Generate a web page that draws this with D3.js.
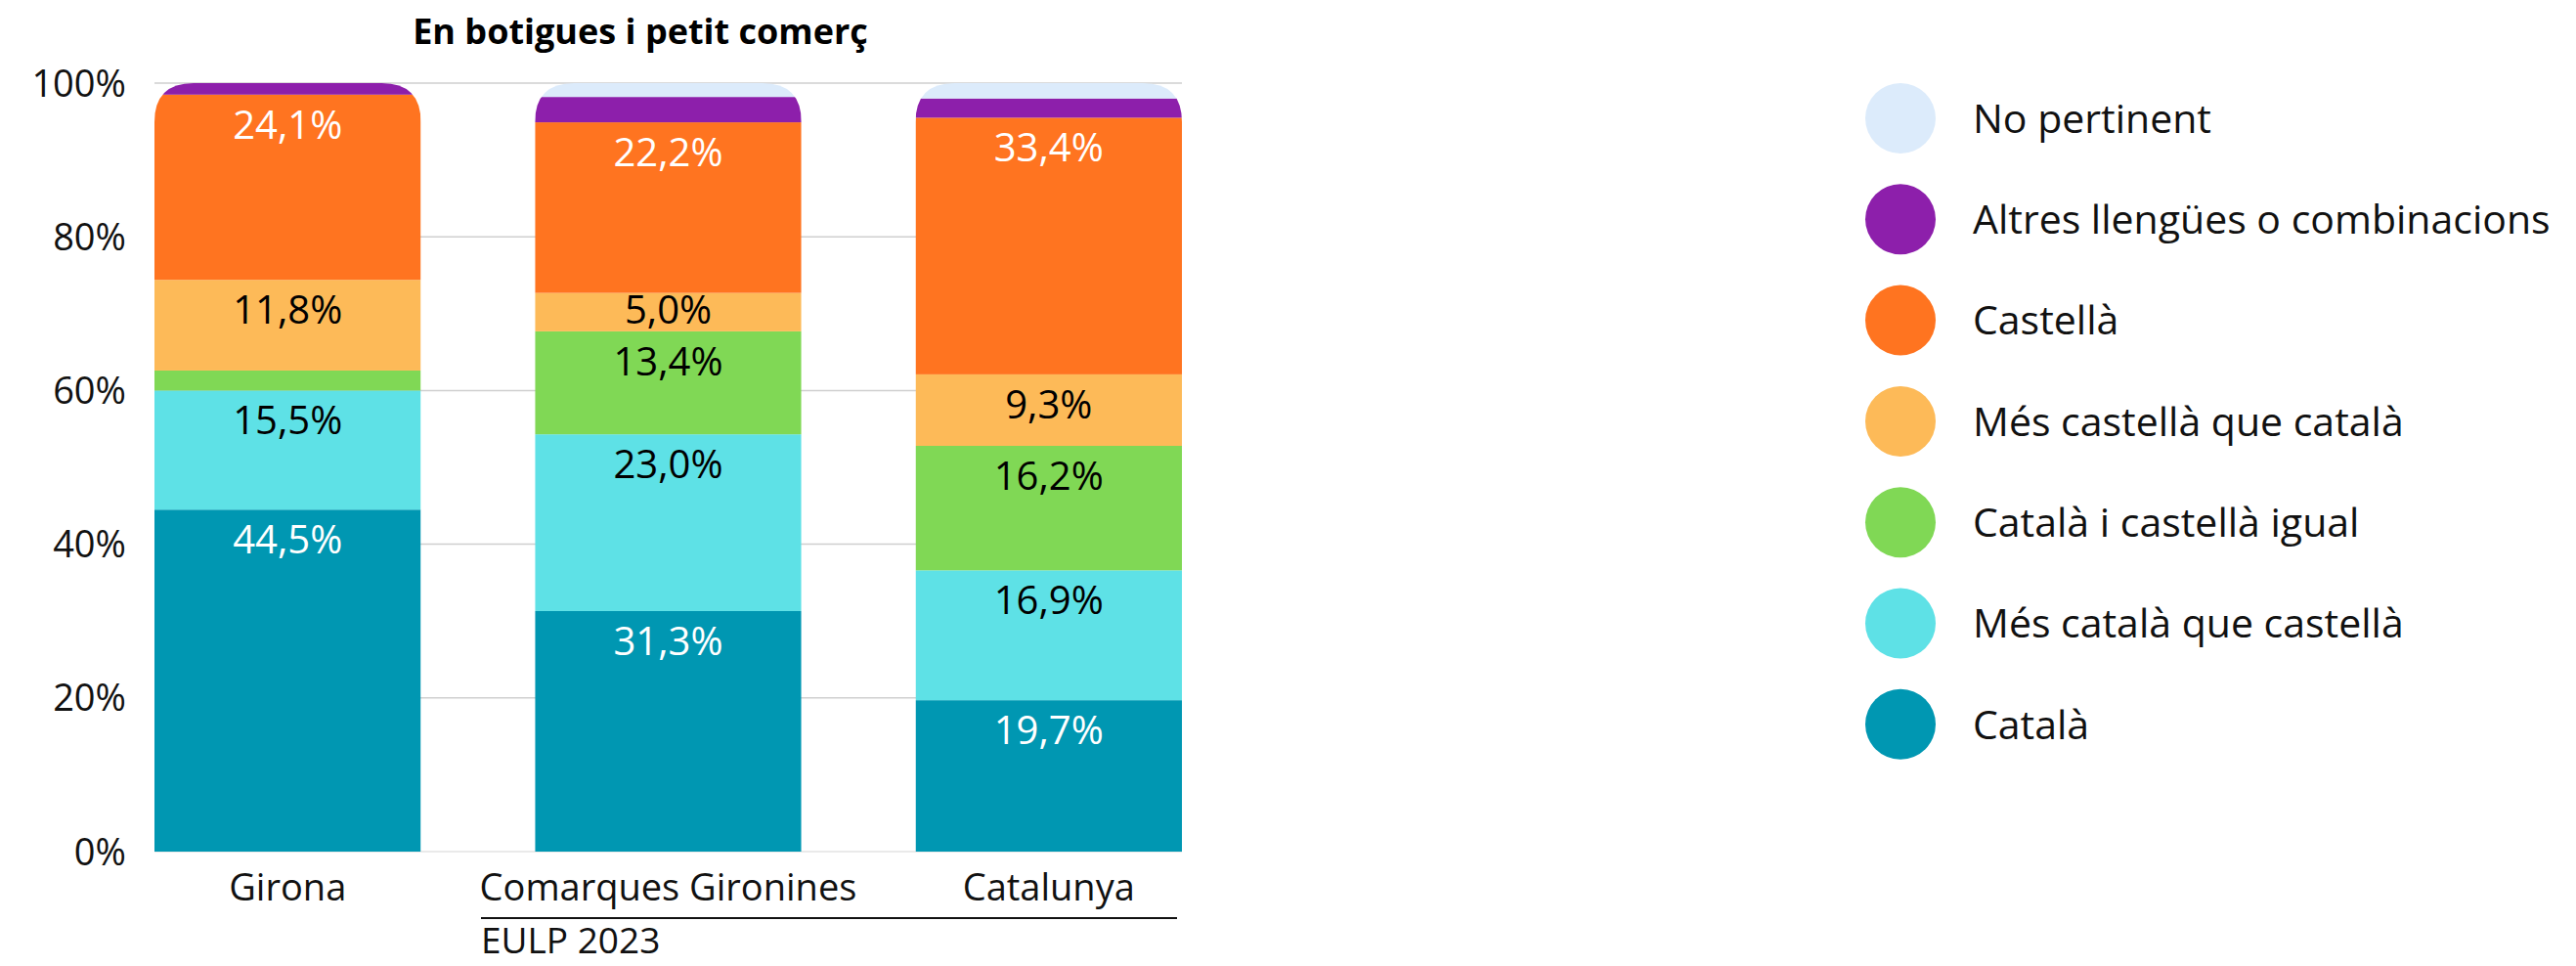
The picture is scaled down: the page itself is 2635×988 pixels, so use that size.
<!DOCTYPE html>
<html>
<head>
<meta charset="utf-8">
<script src="https://cdn.jsdelivr.net/npm/d3@7"></script>
<style>
  body { margin: 0; background: #fff; }
  text { font-family: "Open Sans", "Noto Sans", sans-serif; }
</style>
</head>
<body>
<div id="chart"></div>
<script>
// dades EULP 2023 - en botigues i petit comerç
const categories = ["Girona", "Comarques Gironines", "Catalunya"];
const seriesNames = ["Català", "Més català que castellà", "Català i castellà igual", "Més castellà que català", "Castellà", "Altres llengües o combinacions", "No pertinent"];
const catala = [44.5, 31.3, 19.7];
const mesCatala = [15.5, 23.0, 16.9];
const igual = [2.6, 13.4, 16.2];
const mesCastella = [11.8, 5.0, 9.3];
const castella = [24.1, 22.2, 33.4];
const altres = [1.5, 3.3, 2.5];
const noPertinent = [0, 1.8, 2.0];
const seriesColors = ["#0097b2", "#5ee1e6", "#80d855", "#fdba58", "#ff7420", "#8d1fab", "#dcebfb"];
const darkLabel = [true, false, false, false, true, true, false];
const yTicks = [0, 20, 40, 60, 80, 100];
const title = "En botigues i petit comerç";
const groupLabel = "EULP 2023";

const seriesValues = [catala, mesCatala, igual, mesCastella, castella, altres, noPertinent];

const width = 2635, height = 988;
const plot = {left: 158, right: 1209, top: 85, bottom: 871};

const svg = d3.select("#chart")
    .append("svg")
    .attr("width", width)
    .attr("height", height);

const table = categories.map((c, i) => {
    const row = {cat: c};
    seriesNames.forEach((s, j) => { row[s] = seriesValues[j][i]; });
    return row;
});

const stacked = d3.stack().keys(seriesNames)(table);

const x = d3.scaleBand()
    .domain(categories)
    .range([plot.left, plot.right])
    .paddingInner(0.3)
    .paddingOuter(0);

const y = d3.scaleLinear()
    .domain([0, 100])
    .range([plot.bottom, plot.top]);

const fmt = v => d3.format(".1f")(v).replace(".", ",") + "%";

// title
svg.append("text")
    .attr("x", 655)
    .attr("y", 45)
    .attr("text-anchor", "middle")
    .style("font-size", "36px")
    .style("font-weight", "bold")
    .style("fill", "#000")
    .text(title);

// gridlines
svg.append("g")
    .selectAll("line")
    .data(yTicks)
    .enter().append("line")
    .attr("x1", plot.left)
    .attr("x2", plot.right)
    .attr("y1", d => y(d))
    .attr("y2", d => y(d))
    .style("stroke", d => d === 0 ? "#e3e3e3" : "#cfcfcf")
    .style("stroke-width", 1.5);

// y labels
svg.append("g")
    .selectAll("text")
    .data(yTicks)
    .enter().append("text")
    .attr("x", 129)
    .attr("y", d => y(d))
    .attr("dy", "0.36em")
    .attr("text-anchor", "end")
    .style("font-size", "38px")
    .style("fill", "#111")
    .text(d => d + "%");

// rounded top clip for every bar
const r = 40;
const defs = svg.append("defs");
categories.forEach((c, i) => {
    const x0 = x(c), x1 = x(c) + x.bandwidth(), yt = y(100), yb = y(0);
    defs.append("clipPath")
        .attr("id", "clip" + i)
        .append("path")
        .attr("d", `M${x0},${yb} L${x0},${yt + r} Q${x0},${yt} ${x0 + r},${yt} L${x1 - r},${yt} Q${x1},${yt} ${x1},${yt + r} L${x1},${yb} Z`);
});

const bars = svg.append("g");
categories.forEach((c, i) => {
    const g = bars.append("g").attr("clip-path", "url(#clip" + i + ")");
    g.selectAll("rect")
        .data(stacked.map(s => ({key: s.key, idx: s.index, d: s[i]})))
        .enter().append("rect")
        .attr("x", x(c))
        .attr("width", x.bandwidth())
        .attr("y", d => y(d.d[1]))
        .attr("height", d => y(d.d[0]) - y(d.d[1]))
        .style("fill", d => seriesColors[d.idx]);
});

// data labels (top of segment, pushed up when the segment is short)
const labels = svg.append("g");
stacked.forEach(s => {
    s.forEach((d, i) => {
        const v = d[1] - d[0];
        if (v < 4) return;
        labels.append("text")
            .attr("x", x(categories[i]) + x.bandwidth() / 2)
            .attr("y", Math.min(y(d[1]) + 45, y(d[0]) - 8))
            .attr("text-anchor", "middle")
            .style("font-size", "40px")
            .style("fill", darkLabel[s.index] ? "#fff" : "#000")
            .text(fmt(v));
    });
});

// x labels
svg.append("g")
    .selectAll("text")
    .data(categories)
    .enter().append("text")
    .attr("x", d => x(d) + x.bandwidth() / 2)
    .attr("y", 921)
    .attr("text-anchor", "middle")
    .style("font-size", "38px")
    .style("fill", "#111")
    .text(d => d);

svg.append("line")
    .attr("x1", 492)
    .attr("x2", 1204)
    .attr("y1", 939)
    .attr("y2", 939)
    .style("stroke", "#111")
    .style("stroke-width", 2);

svg.append("text")
    .attr("x", 492)
    .attr("y", 975)
    .style("font-size", "37px")
    .style("fill", "#111")
    .text(groupLabel);

// legend
const legendItems = seriesNames.map((s, i) => ({name: s, color: seriesColors[i]})).reverse();
const legend = svg.append("g")
    .selectAll("g")
    .data(legendItems)
    .enter().append("g")
    .attr("transform", (d, i) => "translate(1944," + (121 + i * 103.3) + ")");

legend.append("circle")
    .attr("r", 36)
    .style("fill", d => d.color);

legend.append("text")
    .attr("x", 74)
    .attr("dy", "0.36em")
    .style("font-size", "41px")
    .style("fill", "#111")
    .text(d => d.name);
</script>
</body>
</html>
